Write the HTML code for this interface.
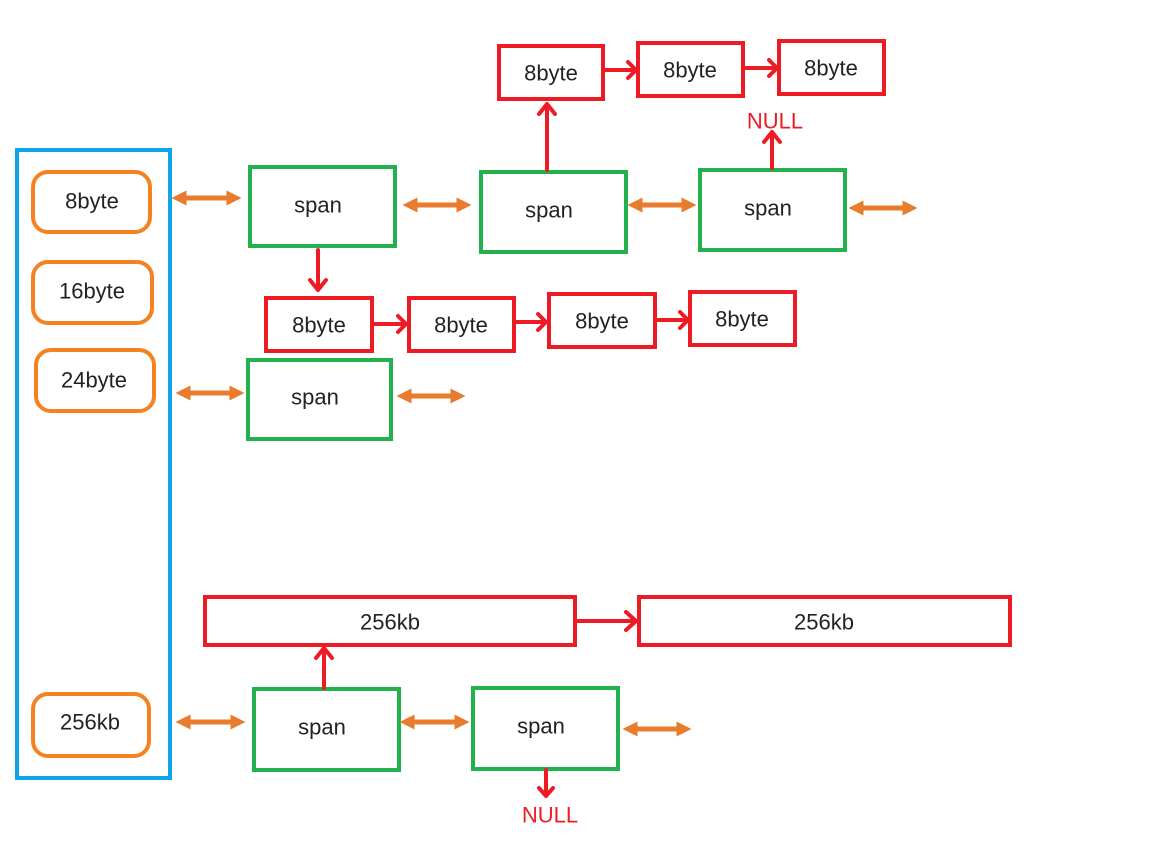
<!DOCTYPE html>
<html><head><style>body{margin:0;background:#fff}svg{display:block}text{font-family:"Liberation Sans",sans-serif;font-size:22px;fill:#222;text-anchor:middle;dominant-baseline:central}</style></head><body>
<svg width="1156" height="846" viewBox="0 0 1156 846">
<defs>
<marker id="o" viewBox="0 0 10 10" refX="5" refY="5" markerWidth="3" markerHeight="3" orient="auto-start-reverse"><path d="M0,0L10,5L0,10z" fill="#e87b2c"/></marker>
</defs>
<g fill="none" stroke="#0fa6e8" stroke-width="4"><rect x="17" y="150" width="153" height="628"/></g>
<g fill="none" stroke="#f58220" stroke-width="4">
<rect x="33" y="172" width="117" height="60" rx="15"/>
<rect x="33" y="262" width="119" height="61" rx="15"/>
<rect x="36" y="350" width="118" height="61" rx="15"/>
<rect x="33" y="694" width="116" height="62" rx="15"/>
</g>
<text x="92" y="201">8byte</text><text x="92" y="291">16byte</text><text x="94" y="380">24byte</text><text x="90" y="722">256kb</text>
<g fill="none" stroke="#22b14c" stroke-width="4">
<rect x="250" y="167" width="145" height="79"/>
<rect x="481" y="172" width="145" height="80"/>
<rect x="700" y="170" width="145" height="80"/>
<rect x="248" y="360" width="143" height="79"/>
<rect x="254" y="689" width="145" height="81"/>
<rect x="473" y="688" width="145" height="81"/>
</g>
<text x="318" y="205">span</text><text x="549" y="210">span</text><text x="768" y="208">span</text><text x="315" y="397">span</text><text x="322" y="727">span</text><text x="541" y="726">span</text>
<g fill="none" stroke="#ed1c24" stroke-width="4">
<rect x="499" y="46" width="104" height="53"/><rect x="638" y="43" width="105" height="53"/><rect x="779" y="41" width="105" height="53"/>
<rect x="266" y="298" width="106" height="53"/><rect x="409" y="298" width="105" height="53"/><rect x="549" y="294" width="106" height="53"/><rect x="690" y="292" width="105" height="53"/>
<rect x="205" y="597" width="370" height="48"/><rect x="639" y="597" width="371" height="48"/>
</g>
<text x="551" y="73">8byte</text><text x="690" y="70">8byte</text><text x="831" y="68">8byte</text>
<text x="319" y="325">8byte</text><text x="461" y="325">8byte</text><text x="602" y="321">8byte</text><text x="742" y="319">8byte</text>
<text x="390" y="622">256kb</text><text x="824" y="622">256kb</text>
<text x="775" y="121" style="fill:#ed1c24">NULL</text><text x="550" y="815" style="fill:#ed1c24">NULL</text>
<g stroke="#e87b2c" stroke-width="5" marker-start="url(#o)" marker-end="url(#o)">
<line x1="179" y1="198" x2="234" y2="198"/><line x1="410" y1="205" x2="464" y2="205"/><line x1="635" y1="205" x2="689" y2="205"/><line x1="856" y1="208" x2="910" y2="208"/>
<line x1="183" y1="393" x2="237" y2="393"/><line x1="404" y1="396" x2="458" y2="396"/>
<line x1="183" y1="722" x2="238" y2="722"/><line x1="407" y1="722" x2="462" y2="722"/><line x1="630" y1="729" x2="684" y2="729"/>
</g>
<g stroke="#ed1c24" stroke-width="4" fill="none" stroke-linecap="round" stroke-linejoin="round">
<path d="M318 250V290M310 280L318 290L326 280"/>
<path d="M547 170V104M539 114L547 104L555 114"/>
<path d="M772 168V132M764 142L772 132L780 142"/>
<path d="M603 70H636M628 62L636 70L628 78"/>
<path d="M743 68H777M769 60L777 68L769 76"/>
<path d="M372 324H406M398 316L406 324L398 332"/>
<path d="M514 322H546M538 314L546 322L538 330"/>
<path d="M655 320H688M680 312L688 320L680 328"/>
<path d="M575 621H636M626 612L636 621L626 630"/>
<path d="M324 688V648M316 658L324 648L332 658"/>
<path d="M546 770V796M539 788L546 796L553 788"/>
</g>
</svg>
</body></html>
